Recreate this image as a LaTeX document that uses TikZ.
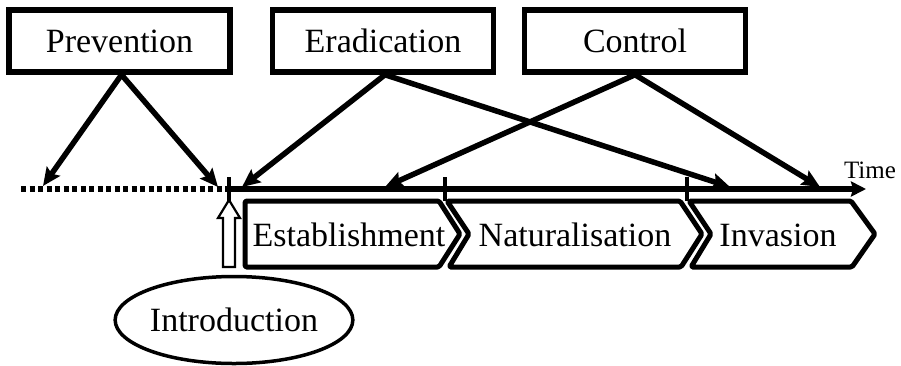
\documentclass[tikz,border=0pt]{standalone}
\usepackage{fontspec}
\setmainfont{Liberation Serif}
\usetikzlibrary{arrows.meta,positioning,shapes.geometric,calc}

\begin{document}
\begin{tikzpicture}
[x=1pt, y=-1pt,
 box/.style={draw, line width=5.5pt, minimum width=221pt, minimum height=62pt, inner sep=0pt,
   font=\fontsize{34}{40}\selectfont},
 link/.style={line width=5.5pt, -{Stealth[length=18pt,width=16pt,inset=3pt]}},
 stage/.style={draw, line width=5pt, rounded corners=1.5pt, line join=round},
 phase/.style={font=\fontsize{34}{40}\selectfont, inner sep=0pt, anchor=base}
]
\useasboundingbox (0,0) rectangle (901,365);

\node[box] (prev) at (119.5,41) {Prevention};
\node[box] (erad) at (383,41) {Eradication};
\node[box] (ctrl) at (635,41) {Control};

% time axis
\coordinate (t0) at (21,189);
\coordinate (t1) at (229,189);
\coordinate (t2) at (866,189);
\draw[line width=5.5pt, dash pattern=on 5pt off 3.5pt] (t0) -- (t1);
\draw[line width=5.5pt, -{Stealth[length=15pt,width=15pt,inset=2pt]}] (t1) -- (t2);
\node[font=\fontsize{25}{30}\selectfont, anchor=base, inner sep=0pt] (time) at (870,178) {Time};
\foreach \x in {229,445,687}{
  \draw[line width=4.5pt] (\x,177) -- (\x,201);
}

\coordinate (p1) at (43,186);
\coordinate (p2) at (218,187);
\coordinate (e1) at (242,187);
\coordinate (e2) at (730,187);
\coordinate (c1) at (385,187);
\coordinate (c2) at (820,187);

\foreach \t in {p1,p2}{
  \draw[link] ([xshift=2pt]prev.south) -- (\t);
}
\foreach \t in {e1,e2}{
  \draw[link] ([xshift=2pt]erad.south) -- (\t);
}
\foreach \t in {c1,c2}{
  \draw[link] (ctrl.south) -- (\t);
}

% stages
\draw[stage] (245,201) -- (439,201) -- (460,234) -- (439,267) -- (245,267) -- cycle;
\draw[stage] (447,201) -- (680,201) -- (702,234) -- (681,267) -- (449,267) -- (469,234) -- cycle;
\draw[stage] (689,201) -- (851,201) -- (875,234) -- (852,267) -- (691,267) -- (711,234) -- cycle;
\node[phase] (estab) at (349,246) {Establishment};
\node[phase] (natur) at (575,246) {Naturalisation};
\node[phase] (invas) at (778,246) {Invasion};

\node[ellipse, draw, line width=3.5pt, minimum width=232pt, minimum height=87pt, inner sep=0pt,
  font=\fontsize{34}{40}\selectfont] (intro) at (234,320) {Introduction};
\coordinate (up) at (229,267);
\draw[line width=2.2pt, line join=miter, fill=white]
  (up) ++(-6,0) -- ++(0,-49) -- ++(-5,0) -- (229,200) -- (240,218) -- ++(-5,0) -- (235,267) -- cycle;
\end{tikzpicture}
\end{document}
